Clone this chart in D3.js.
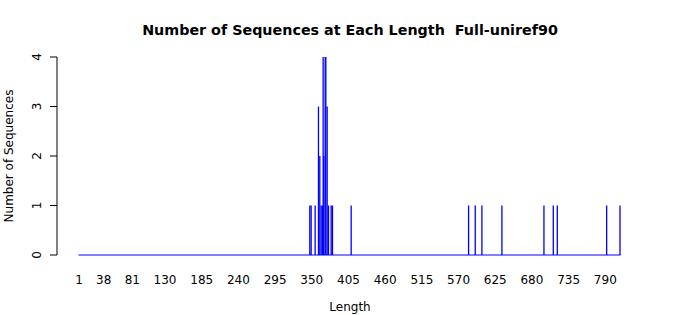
<!DOCTYPE html>
<html>
<head>
<meta charset="utf-8">
<script src="https://cdn.jsdelivr.net/npm/d3@7"></script>
<style>
  body { margin: 0; background: #fff; }
  svg { font-family: "DejaVu Sans", sans-serif; }
</style>
</head>
<body>
<div id="chart"></div>
<script>
// sequence lengths with a non-zero count, and how many sequences have that length
const lengths = [347, 349, 355, 360, 362, 364, 366, 367, 368, 370, 371, 373, 375, 379, 381, 409,
                 585, 595, 605, 635, 698, 712, 718, 792, 812];
const counts  = [1, 1, 1, 3, 2, 1, 1, 4, 2, 4, 4, 3, 1, 1, 1, 1,
                 1, 1, 1, 1, 1, 1, 1, 1, 1];
const xTickLabels = [1, 38, 81, 130, 185, 240, 295, 350, 405, 460, 515, 570, 625, 680, 735, 790];
const yTicks = [0, 1, 2, 3, 4];
const minLength = 1, maxLength = 812;

const W = 700, H = 315;
const svg = d3.select("#chart").append("svg").attr("width", W).attr("height", H);

const x = d3.scaleLinear().domain([minLength, maxLength]).range([79, 620]);
const y = d3.scaleLinear().domain([0, 4]).range([255, 57]);

/* ===== bars (zero-height bars show as the blue base line) ===== */
svg.append("line")
  .attr("x1", x(minLength) - 0.5).attr("x2", x(maxLength) + 0.5)
  .attr("y1", y(0)).attr("y2", y(0))
  .attr("stroke", "#0000ff").attr("stroke-width", 1);

svg.append("g").selectAll("line")
  .data(lengths.map((l, i) => ({ len: l, n: counts[i] })))
  .enter()
  .append("line")
  .attr("x1", (d) => x(d.len)).attr("x2", (d) => x(d.len))
  .attr("y1", y(0)).attr("y2", (d) => y(d.n))
  .attr("stroke", "#0000ff")
  .attr("stroke-width", 1.3);

/* ===== y axis ===== */
const yAxis = svg.append("g").attr("transform", "translate(57,0)");
yAxis.append("line")
  .attr("x1", 0).attr("x2", 0)
  .attr("y1", y(0)).attr("y2", y(4))
  .attr("stroke", "#000");
yAxis.selectAll(".tick")
  .data(yTicks)
  .enter()
  .append("line")
  .attr("x1", -7).attr("x2", 0)
  .attr("y1", (d) => y(d)).attr("y2", (d) => y(d))
  .attr("stroke", "#000");
yAxis.selectAll("text")
  .data(yTicks)
  .enter()
  .append("text")
  .attr("transform", (d) => `translate(-16,${y(d)}) rotate(-90)`)
  .attr("text-anchor", "middle")
  .attr("font-size", 12)
  .text((d) => d);

/* ===== x labels ===== */
svg.append("g").selectAll("text")
  .data(xTickLabels)
  .enter()
  .append("text")
  .attr("x", (d) => x(d))
  .attr("y", 284)
  .attr("text-anchor", "middle")
  .attr("font-size", 12)
  .text((d) => d);

/* ===== titles ===== */
svg.append("text")
  .attr("x", 350).attr("y", 35)
  .attr("text-anchor", "middle")
  .attr("font-size", 14.3)
  .attr("font-weight", "bold")
  .style("white-space", "pre")
  .text("Number of Sequences at Each Length  Full-uniref90");

svg.append("text")
  .attr("x", 350).attr("y", 311)
  .attr("text-anchor", "middle")
  .attr("font-size", 12)
  .text("Length");

svg.append("text")
  .attr("transform", `translate(13,${y(2)}) rotate(-90)`)
  .attr("text-anchor", "middle")
  .attr("font-size", 12)
  .text("Number of Sequences");
</script>
</body>
</html>
